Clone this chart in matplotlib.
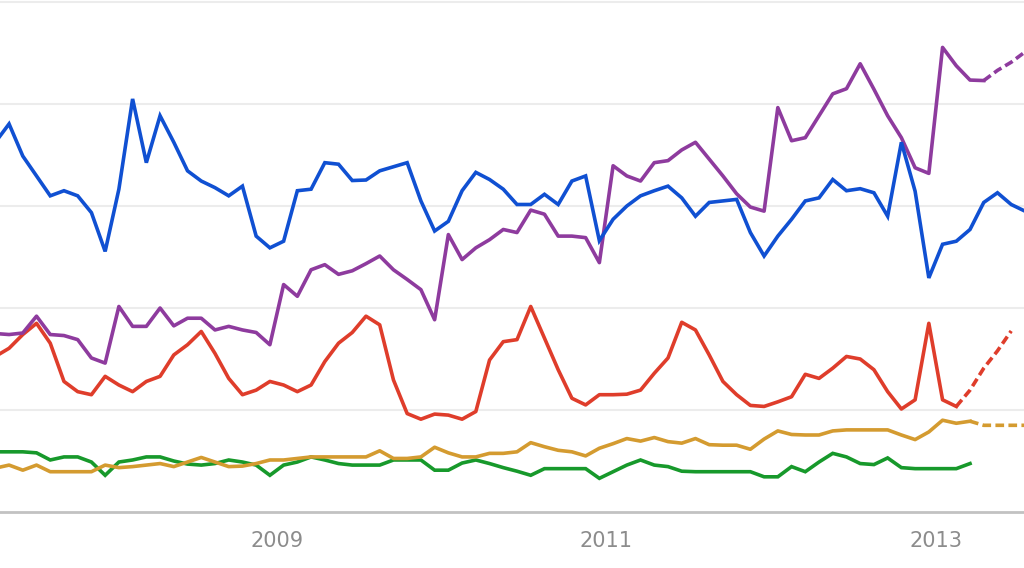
import numpy as np
import pandas as pd
import matplotlib
matplotlib.use("Agg")
import matplotlib.pyplot as plt

# monthly points, Apr 2007 .. Jul 2013 (search interest, 0-100)
months = pd.date_range("2007-04-01", "2013-07-01", freq="MS")

blue = [72.5, 76.1, 69.8, 65.9, 62.0, 63.0, 62.0, 58.7, 51.1, 63.3, 81.0, 68.5, 77.7,
        72.5, 66.9, 64.9, 63.6, 62.0, 63.9, 54.1, 51.8, 53.1, 63.0, 63.3, 68.5, 68.2,
        65.0, 65.1, 66.9, 67.7, 68.5, 61.0, 55.1, 57.0, 63.0, 66.6, 65.2, 63.3, 60.3,
        60.3, 62.3, 60.3, 64.9, 65.9, 53.2, 57.4, 60.0, 62.0, 63.0, 63.9, 61.6, 58.0,
        60.7, 61.0, 61.3, 54.8, 50.2, 54.1, 57.4, 61.0, 61.6, 65.2, 63.0, 63.4, 62.6,
        58.0, 72.5, 62.9, 45.9, 52.5, 53.1, 55.4, 60.7, 62.6, 60.3, 59.0]

purple = [35.0, 34.8, 35.1, 38.4, 34.8, 34.6, 33.8, 30.2, 29.2, 40.3, 36.4, 36.4, 40.0,
          36.5, 38.0, 38.0, 35.7, 36.4, 35.7, 35.2, 32.8, 44.6, 42.3, 47.5, 48.5, 46.6,
          47.3, 48.7, 50.2, 47.5, 45.6, 43.6, 37.7, 54.4, 49.5, 51.8, 53.4, 55.4, 54.8,
          59.2, 58.4, 54.1, 54.1, 53.8, 48.9, 67.9, 65.9, 64.9, 68.5, 68.9, 71.0, 72.5,
          69.2, 65.9, 62.4, 59.8, 59.0, 79.3, 72.8, 73.4, 77.7, 82.0, 83.0, 87.9, 82.9,
          77.7, 73.4, 67.5, 66.4, 91.1, 87.5, 84.7, 84.6, 86.6, 88.2, 90.2]

red = [30.5, 32.1, 34.8, 37.0, 33.1, 25.6, 23.6, 23.0, 26.6, 24.9, 23.6, 25.6, 26.6,
       30.8, 32.8, 35.4, 31.1, 26.2, 23.0, 23.9, 25.6, 24.9, 23.6, 24.9, 29.5, 33.1,
       35.2, 38.4, 36.7, 25.9, 19.3, 18.2, 19.2, 19.0, 18.2, 19.7, 29.8, 33.4, 33.8,
       40.3, 34.1, 27.9, 22.3, 21.0, 23.0, 23.0, 23.1, 23.9, 27.2, 30.2, 37.2, 35.7,
       30.8, 25.6, 23.0, 20.9, 20.7, 21.6, 22.6, 27.0, 26.2, 28.2, 30.5, 30.0, 27.9,
       23.6, 20.2, 22.0, 37.0, 22.0, 20.7, 23.9, 28.2, 31.6, 35.5, np.nan]

orange = [8.6, 9.2, 8.2, 9.2, 7.9, 7.9, 7.9, 7.9, 9.2, 8.7, 8.9, 9.2, 9.5,
          8.9, 9.8, 10.7, 9.8, 8.9, 9.0, 9.5, 10.2, 10.2, 10.5, 10.8, 10.8, 10.8,
          10.8, 10.8, 12.0, 10.5, 10.5, 10.8, 12.7, 11.6, 10.8, 10.8, 11.5, 11.5, 11.8,
          13.6, 12.8, 12.1, 11.8, 11.0, 12.5, 13.4, 14.4, 13.9, 14.6, 13.8, 13.5, 14.4,
          13.2, 13.1, 13.1, 12.3, 14.3, 15.9, 15.2, 15.1, 15.1, 15.9, 16.1, 16.1, 16.1,
          16.1, 15.1, 14.2, 15.7, 18.0, 17.4, 17.8, 17.0, 17.0, 17.0, 17.0]

green = [11.8, 11.8, 11.8, 11.6, 10.2, 10.8, 10.8, 9.8, 7.2, 9.8, 10.2, 10.8, 10.8,
         10.0, 9.4, 9.2, 9.5, 10.2, 9.8, 9.2, 7.2, 9.2, 9.8, 10.8, 10.2, 9.5,
         9.2, 9.2, 9.2, 10.2, 10.2, 10.2, 8.2, 8.2, 9.6, 10.2, 9.5, 8.7, 8.0,
         7.2, 8.5, 8.5, 8.5, 8.5, 6.6, 7.9, 9.2, 10.2, 9.2, 8.9, 8.0, 7.9,
         7.9, 7.9, 7.9, 7.9, 6.9, 6.9, 8.9, 7.9, 9.8, 11.5, 10.8, 9.5, 9.3,
         10.6, 8.7, 8.5, 8.5, 8.5, 8.5, 9.5, np.nan, np.nan, np.nan, np.nan]

year_ticks = [2009, 2011, 2013]

x = months.year + (months.month - 0.5) / 12.0

fig = plt.figure(figsize=(10.24, 5.68), dpi=100)
ax = fig.add_axes([0, 56 / 568, 1, 512 / 568])

# (values, colour, index where the dashed tail starts or None)
series = [
    (green, "#17992b", None),
    (orange, "#d49b30", 71),
    (red, "#df3d2b", 70),
    (purple, "#8e3b9e", 72),
    (blue, "#1050d2", None),
]
for vals, col, dash in series:
    v = np.array(vals, dtype=float)
    if dash is None:
        ax.plot(x, v, color=col, lw=2.6, solid_joinstyle="miter")
    else:
        ax.plot(x[:dash + 1], v[:dash + 1], color=col, lw=2.6)
        ax.plot(x[dash:], v[dash:], color=col, lw=2.6, dashes=(2.4, 1.2))

ax.set_xlim(2007.32, 2013.536)
ax.set_ylim(0, 100.4)

ax.set_yticks([20, 40, 60, 80, 100])
ax.yaxis.grid(True, color="#ececec", lw=1.5)
ax.set_axisbelow(True)
ax.tick_params(axis="y", length=0, labelleft=False)

ax.set_xticks(year_ticks)
ax.set_xticklabels([str(t) for t in year_ticks], fontsize=15, color="#8c8c8c")
ax.tick_params(axis="x", length=0, pad=14)

for s in ["top", "left", "right"]:
    ax.spines[s].set_visible(False)
ax.spines["bottom"].set_color("#c2c2c2")
ax.spines["bottom"].set_linewidth(2)

fig.savefig("out.png", dpi=100)
